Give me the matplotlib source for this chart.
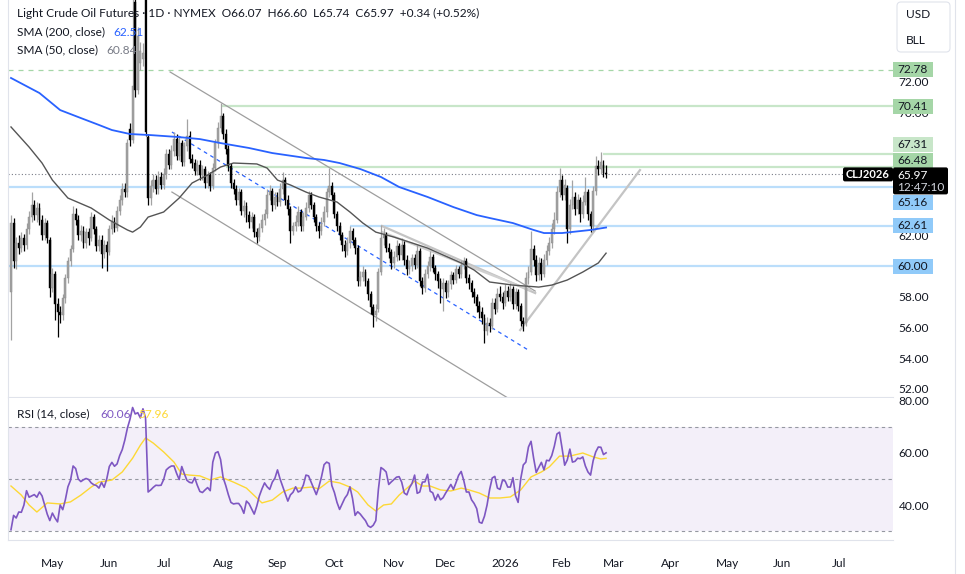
import matplotlib
matplotlib.use("Agg")
import matplotlib.pyplot as plt
import matplotlib.transforms as mtransforms
from matplotlib.patches import Rectangle, FancyBboxPatch
import numpy as np
import pandas as pd

plt.rcParams['font.family'] = ['Lato', 'DejaVu Sans']

# ---- daily candles, 2025-04-09 .. 2026-02-25 (CLJ2026) ----
opens = [
    58.3, 62.8, 60.3, 61.5, 61.2, 61.8, 61.4, 62.4, 63.2, 64.0,
    63.3, 63.8, 63.0, 62.0, 62.8, 61.7, 58.6, 59.5, 57.5, 57.0,
    56.8, 57.9, 59.2, 60.3, 61.1, 63.4, 63.0, 62.0, 62.3, 61.5,
    62.2, 61.8, 63.2, 62.4, 61.3, 61.7, 60.8, 61.4, 60.9, 62.4,
    62.9, 62.5, 63.6, 64.3, 65.0, 64.8, 68.9, 68.2, 77.2, 71.5,
    73.2, 73.5, 77.6, 68.4, 64.4, 65.2, 65.6, 65.0, 65.8, 65.3,
    66.0, 67.3, 66.6, 67.5, 68.3, 67.2, 68.0, 66.8, 67.8, 68.5,
    67.0, 66.7, 66.2, 66.6, 65.9, 66.3, 65.4, 65.9, 65.2, 66.4,
    68.0, 69.0, 69.8, 68.6, 67.6, 66.5, 65.4, 65.0, 64.3, 64.8,
    63.6, 63.9, 63.3, 62.9, 63.2, 62.2, 61.9, 62.5, 63.0, 63.4,
    64.6, 64.9, 64.0, 64.5, 64.2, 65.0, 65.6, 64.3, 63.7, 62.3,
    62.6, 62.9, 63.5, 62.6, 63.2, 63.8, 64.6, 64.0, 63.2, 62.6,
    62.3, 62.9, 63.5, 64.8, 65.2, 64.6, 63.4, 62.6, 62.0, 61.4,
    61.0, 61.5, 62.3, 61.7, 61.2, 59.0, 59.3, 59.6, 59.0, 58.2,
    57.3, 56.8, 57.2, 59.6, 61.8, 62.0, 61.2, 60.9, 60.2, 60.6,
    61.3, 60.7, 61.4, 60.4, 59.8, 60.0, 60.5, 60.1, 61.0, 59.0,
    58.6, 59.5, 60.0, 60.6, 59.9, 59.5, 59.0, 58.5, 58.9, 58.3,
    58.8, 59.4, 59.1, 59.8, 59.5, 60.1, 60.3, 59.2, 58.9, 58.3,
    58.0, 57.4, 57.0, 56.6, 55.8, 56.3, 56.1, 57.6, 57.2, 58.2,
    58.0, 57.6, 58.4, 58.0, 58.5, 57.5, 58.3, 57.4, 56.4, 56.3,
    59.2, 59.6, 61.1, 60.4, 59.4, 60.2, 59.5, 60.4, 61.0, 61.5,
    62.4, 63.0, 64.8, 65.6, 64.6, 65.1, 62.4, 64.0, 64.5, 63.7,
    64.3, 63.4, 64.2, 64.8, 63.4, 62.6, 64.9, 66.5, 66.3, 66.6,
    66.07]
highs = [
    63.3, 63.1, 61.9, 62.0, 62.2, 62.1, 62.8, 63.6, 64.8, 64.3,
    64.2, 64.1, 63.3, 63.1, 63.0, 61.9, 59.9, 59.7, 57.9, 57.4,
    58.2, 59.5, 60.6, 61.4, 63.9, 63.8, 63.3, 62.7, 62.6, 62.5,
    62.5, 63.5, 63.4, 62.6, 62.0, 62.0, 61.7, 61.6, 62.7, 63.3,
    63.2, 63.9, 64.6, 65.4, 65.4, 68.3, 69.3, 77.5, 78.2, 75.6,
    74.6, 74.5, 78.5, 68.6, 65.6, 66.0, 65.9, 66.2, 66.1, 66.4,
    67.6, 67.6, 67.9, 68.7, 68.6, 68.4, 68.2, 68.1, 69.6, 68.8,
    67.3, 67.0, 66.9, 66.9, 66.6, 66.5, 66.2, 66.1, 66.7, 68.3,
    69.4, 70.6, 70.0, 68.9, 67.9, 66.7, 65.7, 65.3, 65.1, 65.0,
    64.3, 64.2, 63.6, 63.5, 63.4, 62.5, 62.8, 63.4, 63.7, 65.0,
    65.3, 65.1, 64.8, 64.8, 65.4, 66.1, 65.8, 64.6, 63.9, 62.9,
    63.3, 63.9, 63.7, 63.5, 64.2, 64.9, 64.8, 64.2, 63.4, 62.9,
    63.2, 63.9, 65.1, 66.4, 65.5, 64.8, 63.6, 62.9, 62.2, 61.7,
    61.9, 62.6, 62.5, 61.9, 61.4, 59.7, 60.0, 59.8, 59.2, 58.4,
    57.5, 57.5, 59.9, 62.7, 62.5, 62.2, 61.5, 61.1, 61.0, 61.7,
    61.5, 61.8, 61.6, 60.7, 60.4, 60.8, 60.8, 61.4, 61.2, 59.3,
    59.8, 60.3, 61.0, 60.8, 60.1, 59.7, 59.2, 59.2, 59.1, 59.1,
    59.7, 59.6, 60.1, 60.0, 60.4, 60.6, 60.5, 59.5, 59.1, 58.6,
    58.2, 57.7, 57.3, 56.9, 56.7, 56.6, 57.9, 57.9, 58.6, 58.7,
    58.3, 58.8, 58.7, 58.9, 58.7, 58.6, 58.5, 57.6, 56.7, 59.6,
    60.0, 62.3, 61.4, 60.7, 60.6, 60.5, 60.8, 61.4, 61.9, 62.8,
    63.5, 65.2, 66.4, 65.9, 65.7, 65.3, 64.4, 65.6, 64.8, 64.7,
    64.5, 64.6, 65.8, 65.0, 63.6, 65.2, 67.2, 66.9, 67.4, 66.9,
    66.60]
lows = [
    55.2, 59.9, 59.8, 60.8, 60.9, 61.0, 61.1, 62.1, 62.9, 63.0,
    62.9, 62.7, 61.7, 61.7, 61.5, 58.0, 58.3, 56.5, 55.4, 56.3,
    56.5, 57.6, 58.9, 60.0, 60.9, 62.7, 61.7, 61.6, 61.2, 61.2,
    61.4, 61.6, 62.1, 61.0, 61.0, 59.9, 60.5, 59.7, 60.7, 62.1,
    62.2, 62.3, 63.3, 64.0, 64.5, 64.5, 67.8, 68.0, 71.0, 71.2,
    72.8, 73.0, 68.5, 64.0, 64.0, 64.8, 64.7, 64.7, 65.0, 65.0,
    65.7, 66.3, 66.3, 67.2, 66.9, 66.9, 66.5, 66.5, 67.5, 66.7,
    66.4, 65.9, 65.9, 65.6, 65.6, 65.1, 65.1, 64.9, 65.0, 66.2,
    67.7, 68.7, 68.3, 67.3, 66.2, 65.1, 64.7, 64.0, 64.0, 63.3,
    63.2, 62.9, 62.5, 62.5, 61.9, 61.5, 61.6, 62.2, 62.7, 63.1,
    64.3, 63.6, 63.7, 63.9, 63.9, 64.7, 64.0, 63.3, 61.5, 62.0,
    62.3, 62.6, 62.3, 62.3, 63.0, 63.5, 63.7, 62.9, 62.3, 61.8,
    62.0, 62.6, 63.2, 64.5, 64.3, 63.1, 62.3, 61.7, 61.0, 60.6,
    60.7, 61.2, 61.4, 60.8, 58.7, 58.7, 59.0, 58.7, 57.8, 56.9,
    56.0, 56.4, 57.0, 59.4, 61.4, 60.9, 60.5, 59.8, 59.9, 60.3,
    60.4, 60.4, 60.1, 59.4, 59.5, 59.7, 59.8, 59.9, 58.7, 58.2,
    58.3, 59.2, 59.7, 59.6, 59.1, 58.6, 57.6, 57.1, 57.9, 58.0,
    58.5, 58.8, 58.9, 59.2, 59.2, 59.8, 58.9, 58.5, 58.0, 57.6,
    57.0, 56.6, 56.2, 55.0, 55.5, 55.7, 55.9, 56.9, 57.0, 57.7,
    57.2, 57.4, 57.7, 57.7, 57.2, 57.2, 57.1, 56.1, 55.8, 56.1,
    58.8, 59.4, 60.0, 59.0, 59.1, 59.1, 59.3, 60.1, 60.7, 61.2,
    62.1, 62.8, 64.5, 64.3, 64.3, 61.5, 62.1, 63.7, 63.3, 63.4,
    62.9, 63.1, 64.0, 63.0, 62.2, 62.3, 64.6, 65.9, 66.0, 65.8,
    65.74]
closes = [
    62.8, 60.3, 61.5, 61.2, 61.8, 61.4, 62.4, 63.2, 64.0, 63.3,
    63.8, 63.0, 62.0, 62.8, 61.8, 58.6, 59.5, 57.5, 57.0, 56.8,
    57.9, 59.2, 60.3, 61.1, 63.4, 63.0, 62.0, 62.3, 61.5, 62.2,
    61.8, 63.2, 62.4, 61.3, 61.7, 60.8, 61.4, 60.9, 62.4, 62.9,
    62.5, 63.6, 64.3, 65.0, 64.8, 68.0, 68.2, 71.7, 71.5, 75.0,
    74.0, 73.9, 68.7, 64.4, 65.2, 65.6, 65.0, 65.8, 65.3, 66.0,
    67.3, 66.6, 67.5, 68.3, 67.2, 68.0, 66.8, 67.8, 68.5, 67.0,
    66.7, 66.2, 66.6, 65.9, 66.3, 65.4, 65.9, 65.2, 66.4, 68.0,
    69.0, 69.8, 68.6, 67.6, 66.5, 65.4, 65.0, 64.3, 64.8, 63.6,
    63.9, 63.3, 62.9, 63.2, 62.2, 61.9, 62.5, 63.0, 63.4, 64.6,
    64.9, 64.0, 64.5, 64.2, 65.0, 65.6, 64.3, 63.7, 62.3, 62.6,
    62.9, 63.5, 62.6, 63.2, 63.8, 64.6, 64.0, 63.2, 62.6, 62.3,
    62.9, 63.5, 64.8, 65.2, 64.6, 63.4, 62.6, 62.0, 61.4, 61.0,
    61.5, 62.3, 61.7, 61.2, 59.0, 59.3, 59.6, 59.0, 58.2, 57.3,
    56.8, 57.1, 59.6, 61.8, 62.0, 61.2, 60.9, 60.2, 60.6, 61.3,
    60.7, 61.4, 60.4, 59.8, 60.0, 60.5, 60.1, 61.0, 59.0, 58.6,
    59.5, 60.0, 60.6, 59.9, 59.5, 59.0, 58.5, 58.9, 58.3, 58.8,
    59.4, 59.1, 59.8, 59.5, 60.1, 60.3, 59.2, 58.9, 58.3, 58.0,
    57.4, 57.0, 56.6, 55.8, 56.3, 56.1, 57.6, 57.2, 58.2, 58.0,
    57.6, 58.4, 58.0, 58.5, 57.5, 58.3, 57.4, 56.4, 56.2, 59.2,
    59.6, 61.1, 60.4, 59.4, 60.2, 59.5, 60.4, 61.0, 61.5, 62.4,
    63.0, 64.8, 65.6, 64.6, 65.3, 62.4, 64.0, 64.5, 63.7, 64.3,
    63.4, 64.2, 64.8, 63.4, 62.6, 64.9, 66.5, 66.3, 66.8, 66.07,
    65.97]

# moving averages (bar index, value)
sma200_idx = [0, 11, 19, 27, 34, 39, 46, 54, 65, 73, 81, 92, 101, 114, 121,
              127, 135, 143, 150, 161, 171, 180, 185, 194, 202, 206, 213, 224, 230]
sma200_val = [72.25, 71.27, 70.16, 69.64, 69.19, 68.86, 68.60, 68.53, 68.40, 68.27,
              68.01, 67.69, 67.36, 67.04, 66.91, 66.71, 66.32, 65.80, 65.15, 64.50,
              63.84, 63.32, 63.13, 62.80, 62.35, 62.15, 62.15, 62.35, 62.51]
sma50_idx = [0, 7, 12, 16, 22, 31, 38, 45, 47, 50, 53, 59, 65, 70, 76, 81, 86, 95,
             99, 103, 108, 114, 119, 126, 131, 136, 141, 148, 154, 161, 167, 174,
             179, 185, 194, 204, 209, 215, 221, 227, 230]
sma50_val = [69.06, 67.75, 66.71, 65.60, 64.43, 63.78, 63.00, 62.35, 62.21, 62.54,
             63.19, 63.52, 64.43, 65.41, 65.93, 66.45, 66.71, 66.65, 66.38, 65.60,
             65.28, 64.82, 64.50, 64.17, 63.52, 62.80, 62.21, 61.89, 61.56, 61.17,
             60.72, 60.20, 59.74, 58.96, 58.76, 58.63, 58.76, 59.09, 59.61, 60.20, 60.84]

# RSI(14) daily and its moving average
rsi = [
    30.5, 36.0, 35.0, 37.3, 37.2, 40.0, 45.5, 43.0, 43.5, 44.0,
    43.0, 45.0, 43.5, 40.0, 36.5, 34.0, 36.9, 35.0, 33.5, 40.0,
    38.2, 42.0, 47.0, 49.5, 55.0, 54.0, 50.0, 49.0, 49.7, 50.2,
    49.8, 48.5, 47.8, 47.5, 46.5, 48.7, 46.8, 50.0, 54.8, 56.4,
    54.9, 55.8, 59.0, 61.3, 65.0, 69.6, 73.0, 77.5, 75.0, 75.5,
    73.5, 77.0, 73.5, 45.0, 45.8, 46.8, 47.6, 47.5, 47.6, 49.8,
    53.5, 54.4, 55.0, 55.0, 52.2, 49.8, 54.8, 52.0, 49.5, 48.7,
    48.5, 50.5, 47.6, 45.2, 44.8, 45.8, 46.7, 45.5, 56.5, 60.0,
    60.5, 57.5, 50.5, 47.5, 44.0, 41.0, 40.4, 40.6, 40.6, 39.2,
    36.8, 41.5, 40.5, 38.5, 36.5, 39.6, 43.5, 46.2, 48.5, 47.0,
    46.0, 48.8, 50.3, 53.5, 50.0, 47.2, 44.5, 41.5, 43.9, 44.9,
    47.0, 45.0, 45.5, 47.7, 51.5, 51.2, 48.8, 46.5, 44.0, 47.0,
    50.8, 55.5, 56.5, 56.0, 47.5, 44.8, 41.0, 38.3, 40.5, 42.6,
    44.0, 47.0, 42.5, 36.0, 37.4, 36.5, 35.2, 34.0, 32.0, 31.4,
    32.2, 34.0, 46.0, 54.4, 53.7, 52.7, 47.9, 48.9, 49.8, 50.7,
    50.9, 48.8, 44.6, 43.9, 46.6, 48.3, 51.5, 44.5, 45.0, 48.8,
    48.9, 51.8, 45.3, 44.7, 41.8, 44.1, 42.0, 42.8, 44.6, 46.2,
    47.9, 46.0, 48.6, 51.4, 52.9, 49.4, 45.0, 45.0, 42.0, 40.6,
    38.6, 33.4, 33.0, 35.7, 40.0, 46.0, 50.4, 51.0, 46.5, 46.0,
    49.6, 49.2, 46.9, 46.9, 50.5, 43.6, 41.0, 50.0, 55.4, 56.5,
    62.3, 64.5, 58.0, 52.5, 54.5, 56.4, 53.5, 57.2, 57.0, 59.0,
    62.6, 67.3, 68.0, 61.8, 55.3, 57.3, 61.5, 56.5, 56.8, 58.0,
    57.8, 58.5, 55.0, 52.7, 51.5, 57.0, 60.4, 62.3, 62.2, 59.4,
    60.06]
rsi_ma_idx = [0, 4, 7, 10, 14, 19, 23, 27, 31, 34, 39, 43, 47, 50, 52, 55, 59, 63,
              66, 69, 73, 77, 81, 86, 91, 95, 97, 101, 105, 109, 112, 116, 119, 123,
              127, 131, 134, 138, 141, 144, 147, 150, 154, 156, 159, 162, 166, 170,
              174, 177, 181, 185, 189, 193, 197, 201, 205, 208, 212, 216, 221, 225,
              228, 230]
rsi_ma_val = [47.3, 43.8, 40.0, 37.3, 40.8, 40.4, 41.2, 43.8, 46.9, 48.8, 49.6, 52.7,
              58.0, 63.0, 65.8, 63.8, 60.4, 56.5, 51.9, 51.5, 51.2, 49.6, 50.8, 48.8,
              46.5, 42.7, 40.8, 41.9, 45.0, 46.5, 46.5, 46.9, 46.2, 49.2, 48.5, 46.9,
              45.0, 40.0, 37.7, 40.0, 40.4, 43.8, 47.3, 49.2, 47.3, 47.3, 45.8, 45.4,
              46.5, 45.8, 44.6, 42.7, 42.7, 43.1, 45.8, 50.8, 52.7, 54.6, 58.8, 58.8,
              60.0, 58.5, 57.7, 57.96]

# trader's drawings (bar index, price)
channel_upper = [(61.5, 72.64), (202.6, 58.37)]
channel_lower = [(62.2, 64.82), (192.1, 51.40)]
channel_mid = [(62.2, 68.73), (200.6, 54.46)]
wedge_lines = [[(143.4, 62.61), (202.6, 58.24)], [(143.4, 62.22), (200.6, 58.44)]]
rising_line = [(196.8, 55.83), (243.1, 66.25)]

# horizontal levels: price, start bar
green_levels = [(70.41, 81), (67.31, 229), (66.48, 83)]
blue_levels = [(65.16, -2), (62.61, 131), (60.00, -2)]
dashed_level = 72.78
last_price = 65.97

# price scale labels visible beside the tags
price_ticks = [52, 54, 56, 58, 60, 62, 70, 72]

W, H = 965, 574
FS = 8.6
fig = plt.figure(figsize=(W / 100, H / 100), dpi=100)
fig.patch.set_facecolor("white")
ax = fig.add_axes([8 / W, 1 - 397 / H, 885 / W, 397 / H])
ax2 = fig.add_axes([8 / W, 1 - 540 / H, 885 / W, 142 / H])
XL = (-1.16, 340.9)

n = len(closes)
idx = np.arange(n)
o = np.array(opens); c = np.array(closes)
hi = np.array(highs); lo = np.array(lows)

ax.set_xlim(*XL)
ax.set_ylim(51.47, 77.33)

# levels
ax.hlines(dashed_level, XL[0], XL[1], colors="#a5d6a7", lw=0.9, linestyles=(0, (4, 4)), zorder=1)
for p, s in green_levels:
    ax.hlines(p, max(s, XL[0]), XL[1], colors="#c8e6c9", lw=1.6, zorder=1)
for p, s in blue_levels:
    ax.hlines(p, max(s, XL[0]), XL[1], colors="#bbdefb", lw=1.6, zorder=1)
ax.hlines(last_price, XL[0], XL[1], colors="#787b86", lw=0.8, linestyles=(0, (1, 2)), zorder=1)

# drawings
for seg, col, lw, ls in [(channel_upper, "#9e9e9e", 0.9, "-"),
                         (channel_lower, "#9e9e9e", 0.9, "-"),
                         (channel_mid, "#2962ff", 0.9, (0, (3, 3))),
                         (wedge_lines[0], "#c4c4c4", 1.6, "-"),
                         (wedge_lines[1], "#d0d0d0", 1.6, "-"),
                         (rising_line, "#c4c4c4", 1.6, "-")]:
    ax.plot([seg[0][0], seg[1][0]], [seg[0][1], seg[1][1]], color=col, lw=lw, ls=ls, zorder=2)

# candles
up = c >= o
cols = np.where(up, "#a3a3a3", "#000000")
ax.vlines(idx, lo, hi, colors=cols, lw=0.9, zorder=3)
ax.bar(idx, np.maximum(np.abs(c - o), 0.05), bottom=np.minimum(o, c), width=0.72,
       color=cols, edgecolor=np.where(up, "#8a8a8a", "#000000"), linewidth=0.3, zorder=4)

# SMAs
ax.plot(sma200_idx, sma200_val, color="#2962ff", lw=1.3, zorder=5)
ax.plot(sma50_idx, sma50_val, color="#555555", lw=1.0, zorder=5)

# axes styling
for a in (ax, ax2):
    for s in ("top", "right"):
        a.spines[s].set_visible(False)
    a.spines["left"].set_color("#e0e3eb")
    a.spines["bottom"].set_color("#e0e3eb")
    a.yaxis.tick_right()
    a.tick_params(axis="y", length=0, pad=4, labelsize=FS, labelcolor="#131722")
ax.set_xticks([])
ax.set_yticks(price_ticks)
ax.set_yticklabels([f"{v:.2f}" for v in price_ticks])

# RSI panel
ax2.set_xlim(*XL)
ax2.set_ylim(26.54, 81.15)
ax2.axhspan(30, 70, color="#7e57c2", alpha=0.09, lw=0, zorder=0)
for lvl in (70, 50, 30):
    ax2.axhline(lvl, color="#9598a1", lw=0.8, ls=(0, (3, 3)), zorder=1)
ax2.plot(rsi_ma_idx, rsi_ma_val, color="#fdd835", lw=1.0, zorder=2)
ax2.plot(idx, rsi, color="#7e57c2", lw=1.2, zorder=3)
ax2.set_yticks([40, 60, 80])
ax2.set_yticklabels(["40.00", "60.00", "80.00"])

# month labels
dates = pd.bdate_range("2025-04-09", "2026-07-31")
month_pos, month_lab = [], []
for i in range(1, len(dates)):
    if dates[i].month != dates[i - 1].month:
        month_pos.append(i)
        month_lab.append("2026" if dates[i].month == 1 else dates[i].strftime("%b"))
ax2.set_xticks(month_pos)
ax2.set_xticklabels(month_lab)
ax2.tick_params(axis="x", length=0, pad=13, labelsize=FS, labelcolor="#131722")

# ---- right-axis tags ----
ident = mtransforms.IdentityTransform()
fig.canvas.draw()


def ypix(price):
    return ax.transData.transform((0, price))[1]


def tag(price, text, bg, fg="#131722", dy=0.0):
    y = ypix(price) - dy
    fig.add_artist(Rectangle((893, y - 7.5), 40, 15, transform=ident,
                             facecolor=bg, edgecolor="none", zorder=10))
    fig.text(897 / W, y / H, text, ha="left", va="center", fontsize=FS,
             color=fg, zorder=11)


tag(72.78, "72.78", "#a5d6a7")
tag(70.41, "70.41", "#a5d6a7")
tag(67.31, "67.31", "#c8e6c9", dy=-9)
tag(66.48, "66.48", "#a5d6a7", dy=-6.5)
tag(65.16, "65.16", "#90caf9", dy=16)
tag(62.61, "62.61", "#90caf9")
tag(60.00, "60.00", "#90caf9")

# the 70.00 scale label only peeks out below its tag
for t in ax.get_yticklabels():
    if t.get_text() == "70.00":
        t.set_clip_on(True)
        t.set_clip_box(mtransforms.Bbox.from_extents(880, 0, W, ypix(70.41) - 7.5))

yl = ypix(last_price)
fig.add_artist(FancyBboxPatch((893, yl - 20), 55, 27, boxstyle="round,pad=0,rounding_size=2",
                              transform=ident, facecolor="#000000", edgecolor="none", zorder=10))
fig.text(897 / W, (yl - 1) / H, "65.97", ha="left", va="center", fontsize=FS,
         color="white", zorder=11)
fig.text(897 / W, (yl - 13) / H, "12:47:10", ha="left", va="center", fontsize=FS,
         color="#d1d4dc", zorder=11)
fig.add_artist(FancyBboxPatch((843, yl - 7), 50, 14, boxstyle="round,pad=0,rounding_size=2",
                              transform=ident, facecolor="#000000", edgecolor="none", zorder=10))
fig.text(868 / W, yl / H, "CLJ2026", ha="center", va="center", fontsize=8,
         color="white", fontweight="bold", zorder=11)

# top-right currency / unit box
fig.add_artist(FancyBboxPatch((897, H - 52), 53, 50, boxstyle="round,pad=0,rounding_size=4",
                              transform=ident, facecolor="white", edgecolor="#e0e3eb",
                              lw=0.8, zorder=10))
fig.text(906 / W, 1 - 15 / H, "USD", fontsize=FS, va="center", color="#131722", zorder=11)
fig.text(906 / W, 1 - 40 / H, "BLL", fontsize=FS, va="center", color="#131722", zorder=11)
fig.add_artist(plt.Line2D([955 / W, 955 / W], [0, 1], color="#e0e3eb", lw=0.8))

# ---- legends ----
tc = "#131722"
fig.text(17 / W, 1 - 13 / H,
         "Light Crude Oil Futures · 1D · NYMEX  O66.07  H66.60  L65.74  C65.97  +0.34 (+0.52%)",
         fontsize=FS, va="center", color=tc, zorder=12)
fig.text(17 / W, 1 - 32 / H, "SMA (200, close)", fontsize=FS, va="center", color=tc, zorder=12)
fig.text(113 / W, 1 - 32 / H, "62.51", fontsize=FS, va="center", color="#2962ff", zorder=12)
fig.text(17 / W, 1 - 50 / H, "SMA (50, close)", fontsize=FS, va="center", color=tc, zorder=12)
fig.text(106 / W, 1 - 50 / H, "60.84", fontsize=FS, va="center", color="#787b86", zorder=12)
fig.text(17 / W, 1 - 414 / H, "RSI (14, close)", fontsize=FS, va="center", color=tc, zorder=12)
fig.text(100 / W, 1 - 414 / H, "60.06", fontsize=FS, va="center", color="#7e57c2", zorder=12)
fig.text(138 / W, 1 - 414 / H, "57.96", fontsize=FS, va="center", color="#fdd835", zorder=12)

fig.savefig("out.png", dpi=100)
